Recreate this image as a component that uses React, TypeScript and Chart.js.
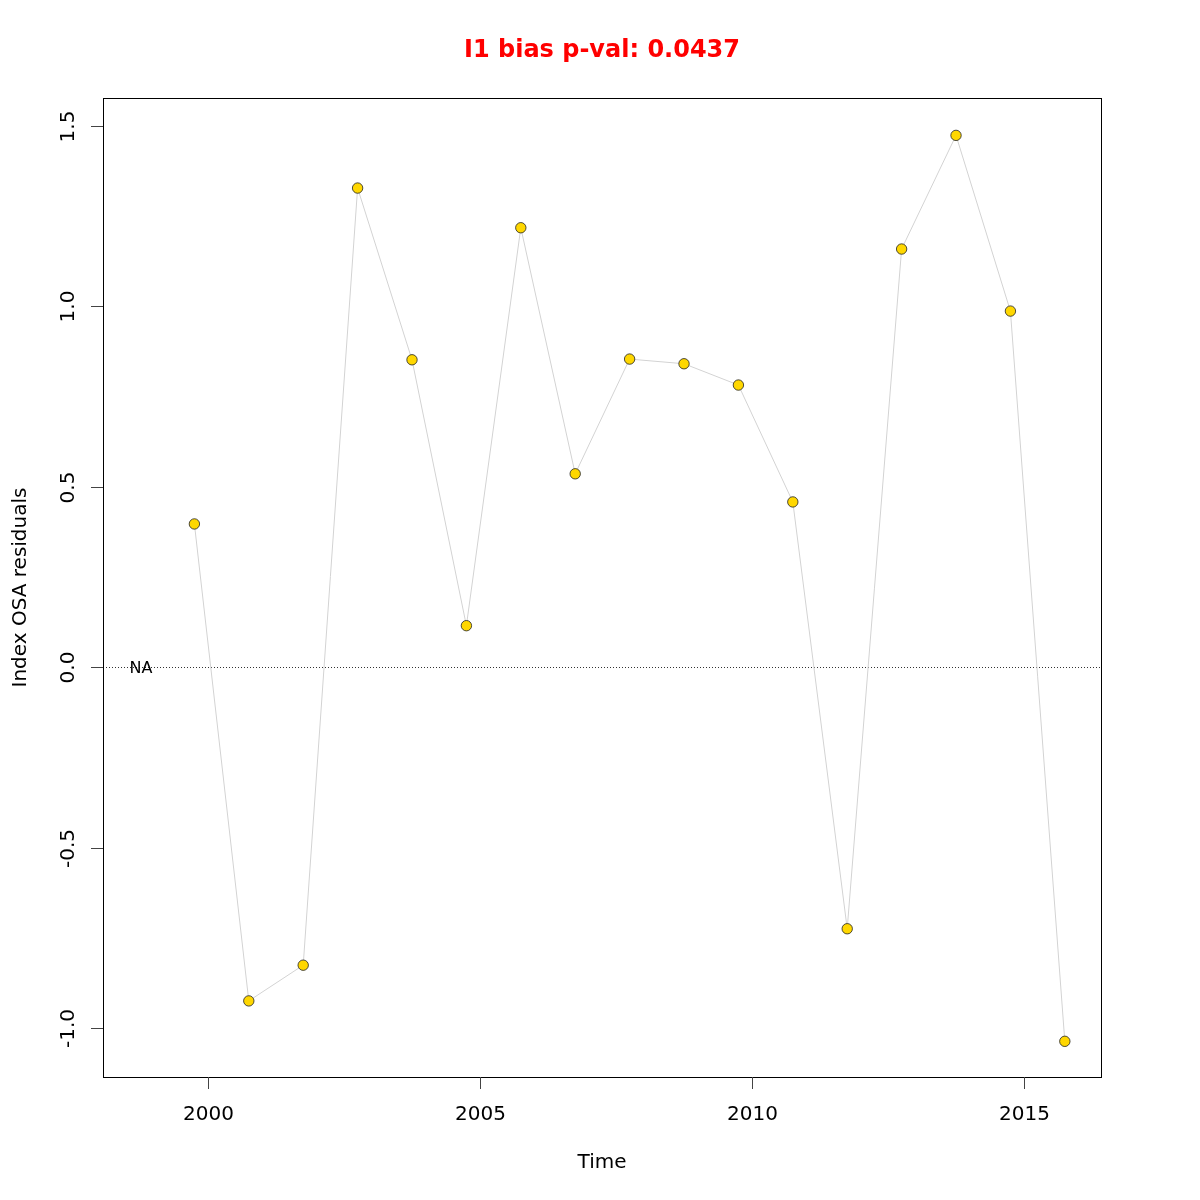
import React, { useEffect, useRef } from "react";
import { Chart, registerables } from "chart.js";

Chart.register(...registerables);

const titleText = "I1 bias p-val: 0.0437";
const xAxisTitle = "Time";
const yAxisTitle = "Index OSA residuals";
const naLabel = "NA";

const years = [1999.75, 2000.75, 2001.75, 2002.75, 2003.75, 2004.75, 2005.75, 2006.75, 2007.75, 2008.75, 2009.75, 2010.75, 2011.75, 2012.75, 2013.75, 2014.75, 2015.75];
const residuals = [0.397, -0.925, -0.826, 1.328, 0.852, 0.115, 1.218, 0.536, 0.854, 0.841, 0.782, 0.458, -0.725, 1.159, 1.474, 0.987, -1.037];

const xTicks = [2000, 2005, 2010, 2015];
const xTickLabels = ["2000", "2005", "2010", "2015"];
const yTicks = [-1, -0.5, 0, 0.5, 1, 1.5];
const yTickLabels = ["-1.0", "-0.5", "0.0", "0.5", "1.0", "1.5"];

const FONT = "'DejaVu Sans', 'Liberation Sans', sans-serif";

const rPlugin = {
  id: "rStyle",
  beforeDatasetsDraw(chart: any) {
    const { ctx, chartArea, scales } = chart;
    const y0 = scales.y.getPixelForValue(0);
    ctx.save();
    ctx.strokeStyle = "#333333";
    ctx.lineWidth = 1;
    ctx.setLineDash([1, 2]);
    ctx.beginPath();
    ctx.moveTo(chartArea.left, Math.round(y0) + 0.5);
    ctx.lineTo(chartArea.right, Math.round(y0) + 0.5);
    ctx.stroke();
    ctx.setLineDash([]);
    ctx.fillStyle = "#000";
    ctx.font = `16px ${FONT}`;
    ctx.textAlign = "center";
    ctx.textBaseline = "middle";
    ctx.fillText(naLabel, 141, y0 + 2);
    ctx.restore();
  },
  afterDraw(chart: any) {
    const { ctx, chartArea, scales } = chart;
    const { left, right, top, bottom } = chartArea;
    ctx.save();
    ctx.strokeStyle = "#000";
    ctx.lineWidth = 1;
    ctx.strokeRect(Math.round(left) + 0.5, Math.round(top) + 0.5, Math.round(right - left), Math.round(bottom - top));
    ctx.fillStyle = "#000";
    ctx.font = `20px ${FONT}`;
    ctx.textAlign = "center";
    ctx.textBaseline = "middle";
    ctx.strokeStyle = "#444";
    xTicks.forEach((v, i) => {
      const px = Math.round(scales.x.getPixelForValue(v)) + 0.5;
      ctx.beginPath();
      ctx.moveTo(px, bottom);
      ctx.lineTo(px, bottom + 12);
      ctx.stroke();
      ctx.fillText(xTickLabels[i], px, 1115);
    });
    yTicks.forEach((v, i) => {
      const py = Math.round(scales.y.getPixelForValue(v)) + 0.5;
      ctx.beginPath();
      ctx.moveTo(left, py);
      ctx.lineTo(left - 12, py);
      ctx.stroke();
      ctx.save();
      ctx.translate(69, py);
      ctx.rotate(-Math.PI / 2);
      ctx.fillText(yTickLabels[i], 0, 0);
      ctx.restore();
    });
    ctx.fillText(xAxisTitle, (left + right) / 2, 1163);
    ctx.save();
    ctx.translate(21, (top + bottom) / 2);
    ctx.rotate(-Math.PI / 2);
    ctx.fillText(yAxisTitle, 0, 0);
    ctx.restore();
    ctx.fillStyle = "#FF0000";
    ctx.font = `bold 24px ${FONT}`;
    ctx.fillText(titleText, (left + right) / 2, 51);
    ctx.restore();
  },
};

export default function App() {
  const ref = useRef<HTMLCanvasElement | null>(null);
  useEffect(() => {
    document.body.style.margin = "0";
    const canvas = ref.current;
    if (!canvas) return;
    const chart = new Chart(canvas, {
      type: "line",
      data: {
        datasets: [
          {
            data: years.map((x, i) => ({ x, y: residuals[i] })),
            borderColor: "#d3d3d3",
            borderWidth: 1,
            backgroundColor: "#FFD700",
            pointBackgroundColor: "#FFD700",
            pointBorderColor: "#222222",
            pointBorderWidth: 0.8,
            pointRadius: 5.2,
            tension: 0,
            fill: false,
          },
        ],
      },
      options: {
        responsive: false,
        animation: false,
        devicePixelRatio: 1,
        layout: { padding: { left: 103, top: 98, right: 99, bottom: 123 } },
        plugins: { legend: { display: false }, tooltip: { enabled: false }, title: { display: false } },
        scales: {
          x: { type: "linear", min: 1998.07, max: 2016.415, display: false },
          y: { type: "linear", min: -1.1359, max: 1.5776, display: false },
        },
      },
      plugins: [rPlugin],
    });
    return () => chart.destroy();
  }, []);
  return (
    <div style={{ position: "absolute", left: 0, top: 0, width: 1200, height: 1200, background: "#fff" }}>
      <canvas ref={ref} width={1200} height={1200} style={{ display: "block" }} />
    </div>
  );
}
